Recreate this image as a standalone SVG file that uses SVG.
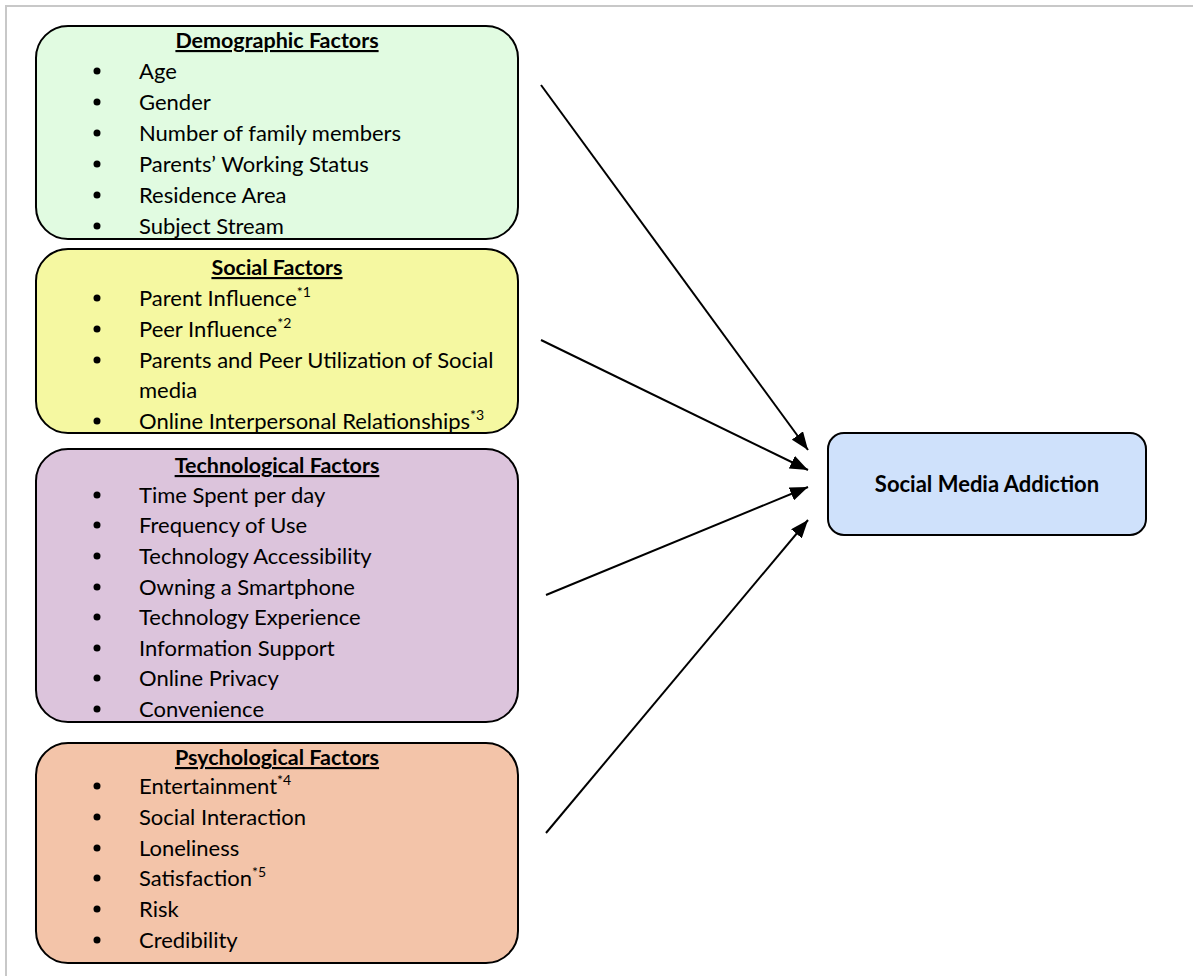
<svg xmlns="http://www.w3.org/2000/svg" width="1193" height="976" viewBox="0 0 1193 976">
<defs>
<marker id="ah" viewBox="0 0 18 14" refX="18" refY="7" markerWidth="18" markerHeight="14" markerUnits="userSpaceOnUse" orient="auto">
<path d="M0,0 L18,7 L0,14 z" fill="#000"/>
</marker>
</defs>
<style>
.box{stroke:#000;stroke-width:2}
.t{font-family:Lato,"Liberation Sans",sans-serif;font-size:22px;fill:#000}
.h{font-family:Lato,"Liberation Sans",sans-serif;font-size:21.5px;font-weight:bold;text-decoration:underline;fill:#000}
.sup{font-size:14px}
.c{stroke:#000;stroke-width:2;fill:none;marker-end:url(#ah)}
</style>
<rect width="1193" height="976" fill="#fff"/>
<path d="M6,976 L6,6 L1193,6" fill="none" stroke="#c8c8c8" stroke-width="2"/>
<g id="demographic">
<rect class="box" x="36" y="26" width="482" height="213" rx="32" fill="#e1fbe1"/>
<text class="h" x="277" y="48" text-anchor="middle">Demographic Factors</text>
<g fill="#000"><circle cx="97" cy="71" r="3.5"/><circle cx="97" cy="102" r="3.5"/><circle cx="97" cy="133" r="3.5"/><circle cx="97" cy="164" r="3.5"/><circle cx="97" cy="195" r="3.5"/><circle cx="97" cy="226" r="3.5"/></g>
<text class="t" x="139" y="79">Age</text>
<text class="t" x="139" y="110">Gender</text>
<text class="t" x="139" y="141">Number of family members</text>
<text class="t" x="139" y="172">Parents’ Working Status</text>
<text class="t" x="139" y="203">Residence Area</text>
<text class="t" x="139" y="234">Subject Stream</text>
</g>
<g id="social">
<rect class="box" x="36" y="249" width="482" height="184" rx="32" fill="#f5f8a1"/>
<text class="h" x="277" y="275" text-anchor="middle">Social Factors</text>
<g fill="#000"><circle cx="97" cy="298" r="3.5"/><circle cx="97" cy="329" r="3.5"/><circle cx="97" cy="360" r="3.5"/><circle cx="97" cy="421" r="3.5"/></g>
<text class="t" x="139" y="306">Parent Influence<tspan class="sup" dy="-9">*1</tspan></text>
<text class="t" x="139" y="337">Peer Influence<tspan class="sup" dy="-9">*2</tspan></text>
<text class="t" x="139" y="368">Parents and Peer Utilization of Social</text>
<text class="t" x="139" y="398">media</text>
<text class="t" x="139" y="429">Online Interpersonal Relationships<tspan class="sup" dy="-9">*3</tspan></text>
</g>
<g id="technological">
<rect class="box" x="36" y="449" width="482" height="273" rx="32" fill="#dcc4dc"/>
<text class="h" x="277" y="473" text-anchor="middle">Technological Factors</text>
<g fill="#000"><circle cx="97" cy="495" r="3.5"/><circle cx="97" cy="525" r="3.5"/><circle cx="97" cy="556" r="3.5"/><circle cx="97" cy="587" r="3.5"/><circle cx="97" cy="617" r="3.5"/><circle cx="97" cy="648" r="3.5"/><circle cx="97" cy="678" r="3.5"/><circle cx="97" cy="709" r="3.5"/></g>
<text class="t" x="139" y="503">Time Spent per day</text>
<text class="t" x="139" y="533">Frequency of Use</text>
<text class="t" x="139" y="564">Technology Accessibility</text>
<text class="t" x="139" y="595">Owning a Smartphone</text>
<text class="t" x="139" y="625">Technology Experience</text>
<text class="t" x="139" y="656">Information Support</text>
<text class="t" x="139" y="686">Online Privacy</text>
<text class="t" x="139" y="717">Convenience</text>
</g>
<g id="psychological">
<rect class="box" x="36" y="743" width="482" height="220" rx="32" fill="#f3c4a9"/>
<text class="h" x="277" y="765" text-anchor="middle">Psychological Factors</text>
<g fill="#000"><circle cx="97" cy="786" r="3.5"/><circle cx="97" cy="817" r="3.5"/><circle cx="97" cy="848" r="3.5"/><circle cx="97" cy="878" r="3.5"/><circle cx="97" cy="909" r="3.5"/><circle cx="97" cy="940" r="3.5"/></g>
<text class="t" x="139" y="794">Entertainment<tspan class="sup" dy="-9">*4</tspan></text>
<text class="t" x="139" y="825">Social Interaction</text>
<text class="t" x="139" y="856">Loneliness</text>
<text class="t" x="139" y="886">Satisfaction<tspan class="sup" dy="-9">*5</tspan></text>
<text class="t" x="139" y="917">Risk</text>
<text class="t" x="139" y="948">Credibility</text>
</g>
<g id="addiction">
<rect class="box" x="828" y="433" width="318" height="102" rx="16" fill="#cfe1fb"/>
<text class="t" x="987" y="492" text-anchor="middle" font-weight="bold">Social Media Addiction</text>
</g>
<g id="connectors">
<line class="c" x1="541" y1="85" x2="808" y2="450"/>
<line class="c" x1="541" y1="340" x2="808" y2="470"/>
<line class="c" x1="546" y1="595" x2="808" y2="487"/>
<line class="c" x1="546" y1="833" x2="808" y2="520"/>
</g>
</svg>
